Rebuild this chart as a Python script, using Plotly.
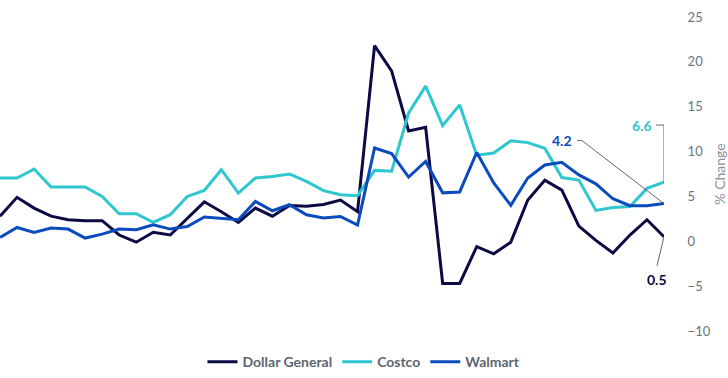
import plotly.graph_objects as go

periods = list(range(40))

dollar_general = [2.8, 4.9, 3.7, 2.8, 2.4, 2.3, 2.3, 0.7, -0.1, 1.0,
                  0.7, 2.5, 4.4, 3.3, 2.1, 3.7, 2.8, 4.0, 3.9, 4.1,
                  4.6, 3.3, 21.8, 19.0, 12.3, 12.7, -4.7, -4.7, -0.6, -1.4,
                  -0.1, 4.6, 6.8, 5.7, 1.7, 0.1, -1.3, 0.7, 2.4, 0.5]

costco = [7.05, 7.05, 8.05, 6.05, 6.05, 6.05, 5.0, 3.07, 3.07, 2.1,
          2.96, 5.0, 5.67, 7.98, 5.38, 7.05, 7.23, 7.5, 6.67, 5.64,
          5.19, 5.08, 7.9, 7.8, 14.3, 17.3, 12.9, 15.2, 9.6, 9.84,
          11.2, 11.0, 10.36, 7.1, 6.83, 3.44, 3.77, 3.88, 5.9, 6.6]

walmart = [0.42, 1.54, 0.98, 1.47, 1.36, 0.36, 0.8, 1.36, 1.28, 1.84,
           1.36, 1.65, 2.7, 2.59, 2.4, 4.44, 3.4, 4.07, 2.96, 2.59,
           2.77, 1.8, 10.4, 9.77, 7.16, 8.9, 5.4, 5.5, 9.9, 6.5,
           4.0, 7.05, 8.5, 8.8, 7.4, 6.4, 4.74, 3.96, 3.96, 4.2]

names = ["Dollar General", "Costco", "Walmart"]
colors = ["#0b0a45", "#2ec6cf", "#0a4bbd"]
series = [dollar_general, costco, walmart]

y_ticks = [-10, -5, 0, 5, 10, 15, 20, 25]

fig = go.Figure()
for name, color, vals in zip(names, colors, series):
    fig.add_trace(go.Scatter(x=periods, y=vals, mode="lines", name=name,
                             line=dict(color=color, width=3),
                             cliponaxis=False))

last_x = periods[-1]
font_family = "Lato, 'Open Sans', sans-serif"

# End-value labels with leader lines
label_specs = [
    (costco[-1], colors[1], "M -8,57 L 0,57 L 0,0", -10, 57),
    (walmart[-1], colors[2], "M -87,63 L -82,63 L 0,0", -90, 63),
    (dollar_general[-1], colors[0], "M 0,0 L -7,-29", -7, -43),
]
for val, color, path, dx, dy in label_specs:
    fig.add_shape(type="path", xref="x", yref="y", xsizemode="pixel", ysizemode="pixel",
                  xanchor=last_x, yanchor=val, path=path,
                  line=dict(color="#666666", width=1))
    fig.add_annotation(x=last_x, y=val, xref="x", yref="y",
                       text=f"<b>{val:.1f}</b>", showarrow=False,
                       xshift=dx, yshift=dy, xanchor="right" if dy > 0 else "center",
                       font=dict(family=font_family, size=14, color=color))

fig.update_layout(
    width=728, height=378,
    margin=dict(l=0, r=64, t=17, b=47),
    plot_bgcolor="white", paper_bgcolor="white",
    showlegend=True,
    legend=dict(orientation="h", xref="container", yref="container",
                x=0.5, xanchor="center", y=0.042, yanchor="middle",
                font=dict(family=font_family, size=14, color="#5b6671", weight="bold"),
                itemwidth=30, tracegroupgap=0),
    xaxis=dict(range=[0, last_x], showgrid=False, zeroline=False,
               showticklabels=False, showline=False, ticks=""),
    yaxis=dict(range=[-10, 25], side="right", tickvals=y_ticks,
               showgrid=False, zeroline=False, showline=False,
               ticks="outside", ticklen=20, tickcolor="rgba(0,0,0,0)",
               tickfont=dict(family=font_family, size=13, color="#6b7480"),
               title=dict(text="% Change", standoff=6,
                          font=dict(family=font_family, size=14, color="#8a9099"))),
)

fig.write_html("out.html")
